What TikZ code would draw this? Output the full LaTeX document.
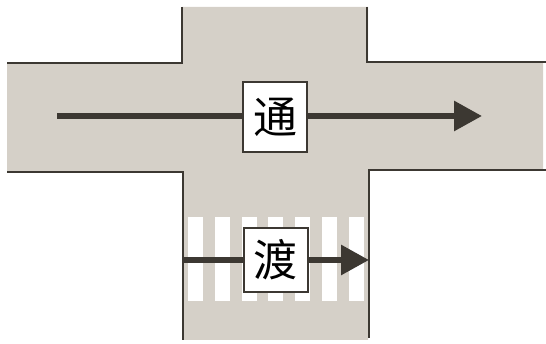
\documentclass[tikz,border=0pt]{standalone}
\usepackage{fontspec}
\newfontfamily\cjk{Noto Sans CJK SC}
\usepackage{xcolor}
\usetikzlibrary{arrows.meta}

\definecolor{roadgray}{RGB}{213,208,200}
\definecolor{inkgray}{RGB}{60,56,50}

\tikzset{
    kerb/.style={draw=inkgray, line width=2pt},
    flow/.style={draw=inkgray, line width=6pt},
    flowhead/.style={flow, -{Triangle[length=28pt,width=29pt]}},
    sign/.style={draw=inkgray, line width=2pt, fill=white, inner sep=0pt,
        minimum width=64pt, minimum height=64pt,
        font=\cjk\fontsize{44}{44}\selectfont},
}

\begin{document}
\begin{tikzpicture}[x=1pt,y=-1pt]
            \useasboundingbox (0,0) rectangle (546,344);

            % road surface
            \path [fill=roadgray] (182,7) -- (368,7) -- (368,62) -- (543,62) -- (543,171)
                -- (368,171) -- (368,340) -- (182,340) -- (182,172) -- (7,172) -- (7,63)
                -- (182,63) -- cycle;

            % zebra stripes
            \foreach \i in {0,...,6}
                \fill[white] ({188+26.8*\i},217) rectangle ({203+26.8*\i},301);

            % kerbs
            \draw[kerb] (7,63) -- (182,63) -- (182,7);
            \draw[kerb] (367,7) -- (367,62) -- (546,62);
            \draw[kerb] (7,172) -- (183,172) -- (183,340);
            \draw[kerb] (546,170) -- (369,170) -- (369,338);

            % signs
            \node[sign, minimum height=70pt] (tong) at (275,117) {通};
            \node[sign] (du) at (275.5,260) {渡};

            \coordinate (tongstart) at (57,116);
            \coordinate (tongend) at (482,116);
            \coordinate (dustart) at (184,260);
            \coordinate (duend) at (369,260);

            \draw[flow] (tongstart) -- (tongstart -| tong.west);
            \draw[flowhead] (tongend -| tong.east) -- (tongend);
            \draw[flow] (dustart) -- (du);
            \draw[flowhead] (du) -- (duend);
\end{tikzpicture}
\end{document}
